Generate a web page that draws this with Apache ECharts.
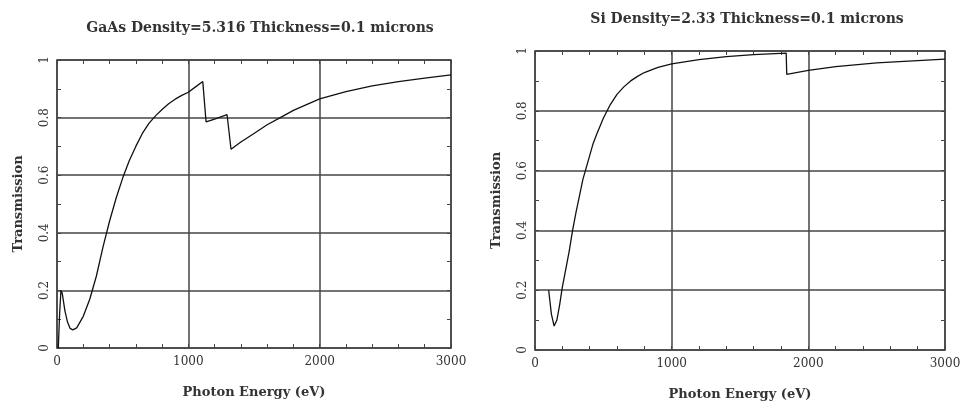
<!DOCTYPE html>
<html lang="en">
<head>
  <meta charset="UTF-8">
  <title>X-ray Transmission</title>
  <script src="https://cdn.jsdelivr.net/npm/echarts@6.0.0/dist/echarts.min.js"></script>
</head>
<body style="margin:0;background:#fff;">
  <div id="main" style="width: 965px;height:408px;"></div>
  <script type="text/javascript">
    // values
    const gaasEnergy = [10, 20, 30, 40, 60, 80, 100, 120, 150, 200, 250, 300, 350, 400, 450, 500, 550, 600, 650, 700, 750, 800, 850, 900, 950, 1000, 1050, 1110, 1135, 1200, 1295, 1325, 1400, 1500, 1600, 1700, 1800, 1900, 2000, 2200, 2400, 2600, 2800, 3000];
    const gaasTrans = [0.0, 0.12, 0.2, 0.19, 0.13, 0.09, 0.068, 0.063, 0.07, 0.11, 0.17, 0.25, 0.35, 0.44, 0.52, 0.59, 0.65, 0.70, 0.745, 0.78, 0.806, 0.828, 0.848, 0.864, 0.877, 0.888, 0.905, 0.925, 0.785, 0.795, 0.81, 0.69, 0.715, 0.745, 0.775, 0.80, 0.825, 0.845, 0.865, 0.89, 0.91, 0.925, 0.937, 0.948];

    const siEnergy = [100, 120, 140, 160, 180, 200, 225, 250, 275, 300, 325, 350, 375, 400, 425, 450, 500, 550, 600, 650, 700, 750, 800, 900, 1000, 1200, 1400, 1600, 1838, 1842, 2000, 2200, 2500, 2800, 3000];
    const siTrans = [0.2, 0.12, 0.08, 0.1, 0.15, 0.21, 0.27, 0.33, 0.40, 0.46, 0.515, 0.57, 0.61, 0.65, 0.69, 0.72, 0.775, 0.82, 0.855, 0.88, 0.9, 0.915, 0.928, 0.945, 0.957, 0.971, 0.981, 0.988, 0.993, 0.922, 0.935, 0.948, 0.96, 0.968, 0.973];

    const titles = ['GaAs Density=5.316 Thickness=0.1 microns', 'Si Density=2.33 Thickness=0.1 microns'];

    const font = 'DejaVu Serif';
    const ink = '#444';

    var myChart = echarts.init(document.getElementById('main'));

    function pairs(xs, ys) {
      return xs.map((x, i) => [x, ys[i]]);
    }

    function xAx(grid, pos) {
      const bottom = pos === 'bottom';
      return {
        type: 'value', gridIndex: grid, position: pos, min: 0, max: 3000, interval: 1000,
        name: bottom ? 'Photon Energy (eV)' : '', nameLocation: 'middle', nameGap: 38,
        nameTextStyle: { fontFamily: font, fontSize: 13, fontWeight: 'bold', color: '#333' },
        axisLine: { show: true, onZero: false, lineStyle: { color: ink, width: 1.5 } },
        axisTick: { show: true, inside: true, length: 4, lineStyle: { color: ink } },
        minorTick: { show: true, splitNumber: 5, length: 4, lineStyle: { color: ink } },
        axisLabel: { show: bottom, margin: 8, fontFamily: font, fontSize: 12, color: '#333',
          formatter: v => String(v) },
        splitLine: { show: bottom, lineStyle: { color: ink, width: 1.5 } }
      };
    }

    function yAx(grid, pos) {
      const left = pos === 'left';
      return {
        type: 'value', gridIndex: grid, position: pos, min: 0, max: 1, interval: 0.2,
        name: left ? 'Transmission' : '', nameLocation: 'middle', nameGap: 32, nameRotate: 90,
        nameTextStyle: { fontFamily: font, fontSize: 13, fontWeight: 'bold', color: '#333' },
        axisLine: { show: true, onZero: false, lineStyle: { color: ink, width: 1.5 } },
        axisTick: { show: true, inside: true, length: 4, lineStyle: { color: ink } },
        minorTick: { show: true, splitNumber: 2, length: 4, lineStyle: { color: ink } },
        axisLabel: { show: left, rotate: 90, margin: 6, fontFamily: font, fontSize: 12, color: '#333' },
        splitLine: { show: left, lineStyle: { color: ink, width: 1.5 } }
      };
    }

    var option = {
      backgroundColor: '#fff',
      animation: false,
      title: [
        { text: titles[0], left: 255, top: 16, textAlign: 'center',
          textStyle: { fontFamily: font, fontSize: 14, fontWeight: 'bold', color: '#333' } },
        { text: titles[1], left: 742, top: 7, textAlign: 'center',
          textStyle: { fontFamily: font, fontSize: 14, fontWeight: 'bold', color: '#333' } }
      ],
      grid: [
        { left: 57, top: 60, width: 394, height: 288 },
        { left: 535, top: 51, width: 410, height: 299 }
      ],
      xAxis: [xAx(0, 'bottom'), xAx(0, 'top'), xAx(1, 'bottom'), xAx(1, 'top')],
      yAxis: [yAx(0, 'left'), yAx(0, 'right'), yAx(1, 'left'), yAx(1, 'right')],
      series: [
        {
          type: 'line', xAxisIndex: 0, yAxisIndex: 0, showSymbol: false, smooth: false,
          lineStyle: { color: '#111', width: 1.3 },
          data: pairs(gaasEnergy, gaasTrans)
        },
        {
          type: 'line', xAxisIndex: 2, yAxisIndex: 2, showSymbol: false, smooth: false,
          lineStyle: { color: '#111', width: 1.3 },
          data: pairs(siEnergy, siTrans)
        }
      ]
    };

    myChart.setOption(option);
  </script>
</body>
</html>
